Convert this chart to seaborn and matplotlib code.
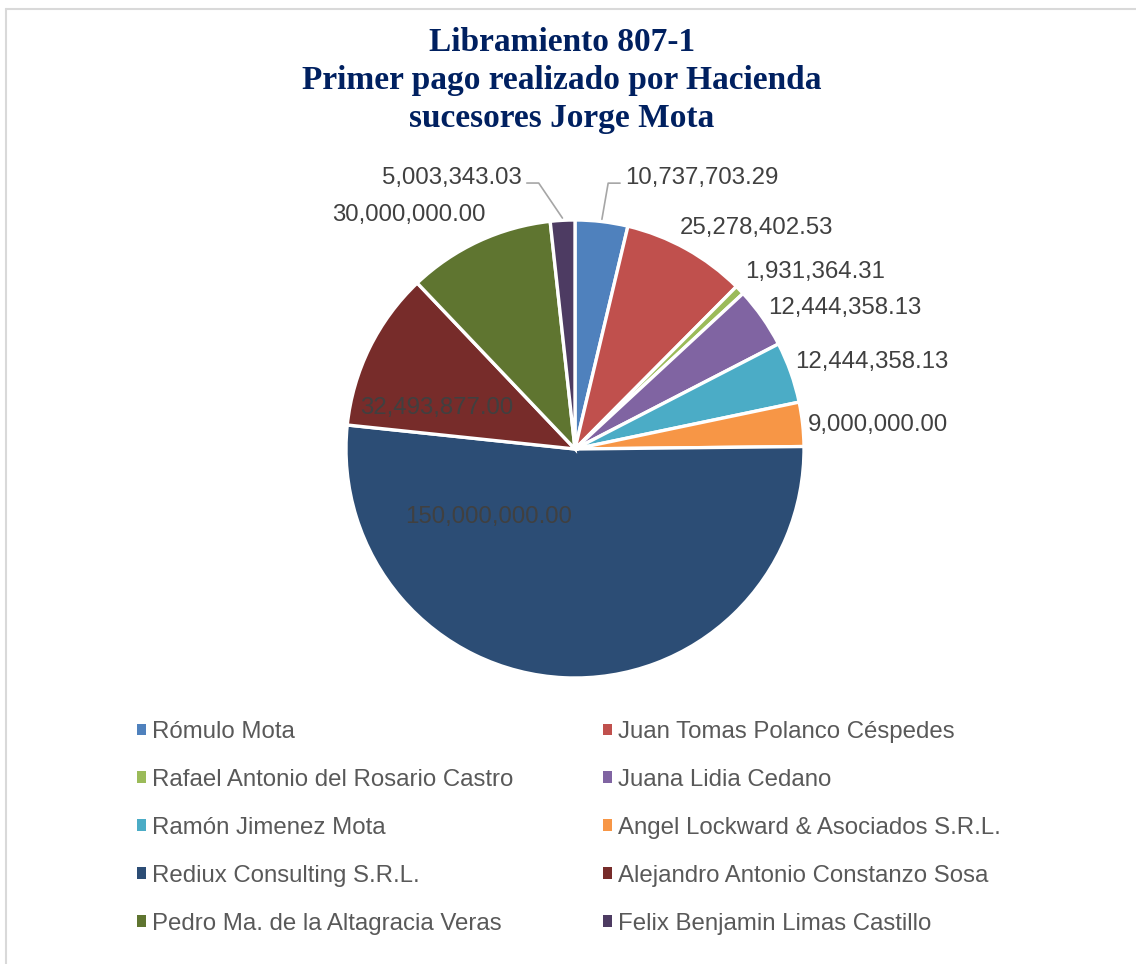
import numpy as np
import matplotlib
matplotlib.use("Agg")
import matplotlib.pyplot as plt
from matplotlib.patches import Patch
from matplotlib.lines import Line2D
import seaborn as sns

sns.set_theme(style="white")
plt.rcParams['font.family'] = ['Liberation Sans', 'DejaVu Sans']

# Data
names = ["Rómulo Mota", "Juan Tomas Polanco Céspedes",
         "Rafael Antonio del Rosario Castro", "Juana Lidia Cedano",
         "Ramón Jimenez Mota", "Angel Lockward & Asociados S.R.L.",
         "Rediux Consulting S.R.L.", "Alejandro Antonio Constanzo Sosa",
         "Pedro Ma. de la Altagracia Veras", "Felix Benjamin Limas Castillo"]
amounts = [10737703.29, 25278402.53, 1931364.31, 12444358.13, 12444358.13,
           9000000.00, 150000000.00, 32493877.00, 30000000.00, 5003343.03]
title_lines = ["Libramiento 807-1", "Primer pago realizado por Hacienda",
               "sucesores Jorge Mota"]
colors = sns.color_palette(["#4F81BD", "#C0504D", "#9BBB59", "#8064A2", "#4BACC6",
                            "#F79646", "#2C4D75", "#772C2A", "#5F7530", "#4D3B62"])

# label layout: radius factor, angle shift (deg), alignment, leader line
lab_r = [1.203, 1.07, 1.07, 1.044, 1.033, 1.023, 0.482, 0.629, 1.095, 1.206]
lab_shift = [3.8, -3.7, -2.2, -1.1, -2.0, 0.3, 49.2, -9.7, 4.0, -8.0]
lab_ha = ["left", "left", "left", "left", "left", "left", "center", "center", "right", "right"]
leader = [True, False, False, False, False, False, False, False, False, True]

fig = plt.figure(figsize=(11.36, 9.64), dpi=100)
ax = fig.add_axes([346 / 1136, 286 / 964, 458 / 1136, 458 / 964])

wedges, _ = ax.pie(amounts, colors=colors, startangle=90, counterclock=False,
                   wedgeprops=dict(edgecolor="white", linewidth=2.4))
ax.set_xlim(-1, 1)
ax.set_ylim(-1, 1)
ax.set_aspect("equal")
ax.axis("off")

total = float(np.sum(amounts))
cum = np.cumsum([0] + amounts[:-1])
for i, v in enumerate(amounts):
    mid = (cum[i] + v / 2) / total * 360
    a = np.deg2rad(mid + lab_shift[i])
    tx, ty = lab_r[i] * np.sin(a), lab_r[i] * np.cos(a)
    ax.text(tx, ty, f"{v:,.2f}", ha=lab_ha[i], va="center", fontsize=17.3,
            color="#404040", clip_on=False)
    if leader[i]:
        m = np.deg2rad(mid)
        sgn = 1 if lab_ha[i] == "left" else -1
        ly = ty - 0.022
        xs = [1.01 * np.sin(m), tx - sgn * 0.074, tx - sgn * 0.022]
        ys = [1.01 * np.cos(m), ly, ly]
        ax.plot(xs, ys, color="#A6A6A6", lw=1.2, clip_on=False)

# title
for k, line in enumerate(title_lines):
    fig.text(562 / 1136, 1 - (51 + 38 * k) / 964, line, ha="center", va="baseline",
             fontsize=24, fontweight="bold", color="#002060",
             family=["Liberation Serif", "DejaVu Serif"])

# legend (row-major order across two columns)
handles = [Patch(facecolor=c, edgecolor="none") for c in colors]
order = list(range(0, 10, 2)) + list(range(1, 10, 2))
fig.legend([handles[i] for i in order], [names[i] for i in order], ncol=2,
           loc="upper left", bbox_to_anchor=(137 / 1136, 1 - 721 / 964),
           frameon=False, fontsize=17.3, labelcolor="#595959",
           handlelength=0.375, handleheight=0.375, handletextpad=0.25,
           columnspacing=3.72, labelspacing=1.08, borderpad=0, borderaxespad=0)

# chart border (top and left edges visible)
fig.add_artist(Line2D([6 / 1136, 1], [1 - 9 / 964] * 2, color="#D9D9D9", lw=1.5,
                      transform=fig.transFigure))
fig.add_artist(Line2D([6 / 1136] * 2, [0, 1 - 9 / 964], color="#D9D9D9", lw=1.5,
                      transform=fig.transFigure))

fig.savefig("out.png", dpi=100, facecolor="white")
